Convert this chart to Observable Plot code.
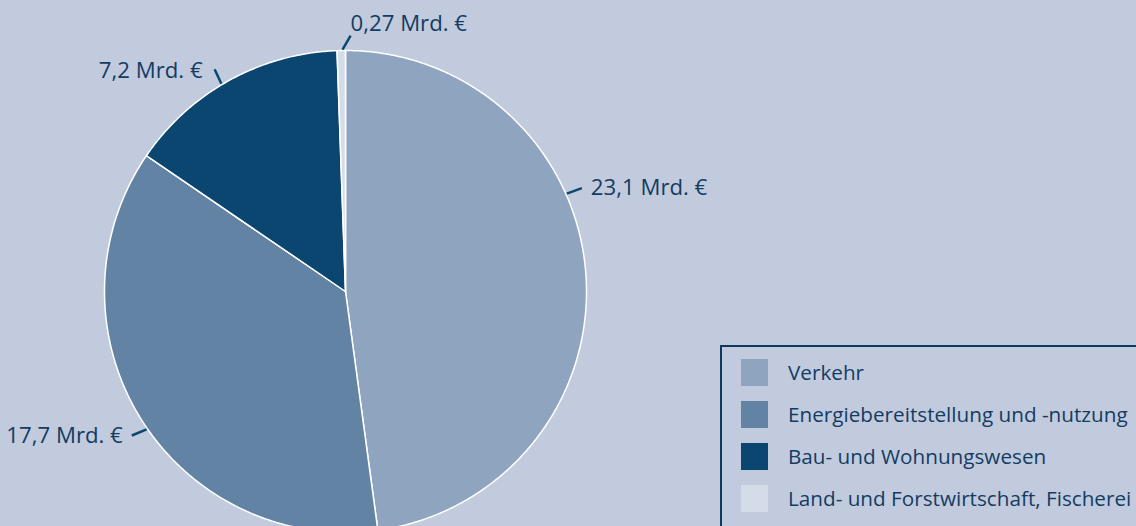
<!DOCTYPE html>
<html>
<head>
<meta charset="utf-8">
<script src="https://cdn.jsdelivr.net/npm/d3@7"></script>
<script src="https://cdn.jsdelivr.net/npm/@observablehq/plot@0.6"></script>
<style>
  html, body { margin: 0; padding: 0; background: #C1CBDD; overflow: hidden; }
  #wrap { position: relative; width: 1136px; height: 526px; overflow: hidden; font-family: "Open Sans", sans-serif; }
  #legend { position: absolute; left: 720px; top: 345px; width: 500px; height: 300px;
            border: 2px solid #0B3A60; box-sizing: border-box; }
  .row { position: absolute; left: 19px; height: 27px; display: flex; align-items: center; }
  .sw { width: 27px; height: 27px; margin-right: 20px; flex: none; }
  .lab { font-size: 20.7px; color: #143C63; white-space: nowrap; line-height: 27px; }
</style>
</head>
<body>
<div id="wrap"></div>
<script>
// ---- data ----
const categories = ["Verkehr", "Energiebereitstellung und -nutzung", "Bau- und Wohnungswesen", "Land- und Forstwirtschaft, Fischerei"];
const values = [23.1, 17.7, 7.2, 0.27];
const valueLabels = ["23,1 Mrd. €", "17,7 Mrd. €", "7,2 Mrd. €", "0,27 Mrd. €"];
const colors = ["#8FA5BF", "#6383A5", "#0A466F", "#D4DCE7"];

// ---- layout ----
const W = 1136, H = 526;
const R = 241;
const cx = 345, cy = 291;
const labelAngleShift = [-20, -3, -2, 0.3]; // degrees, leader start offset from slice mid-angle
const leaderTilt = [4, 12, 6, 31];          // degrees, leader direction relative to radial
const leaderLen = 16;
const labelStyle = [
  {textAnchor: "start", dx: 9, dy: 0},
  {textAnchor: "end", dx: -9, dy: 0},
  {textAnchor: "end", dx: -12, dy: 2},
  {textAnchor: "start", dx: 0, dy: -12}
];

const total = d3.sum(values);
let acc = 0;
const slices = categories.map((c, i) => {
  const a0 = acc / total * 360;
  acc += values[i];
  const a1 = acc / total * 360;
  return {name: c, i, a0, a1, mid: (a0 + a1) / 2};
});
const rad = a => a * Math.PI / 180;
const pt = (a, r) => [r * Math.sin(rad(a)), r * Math.cos(rad(a))];

const poly = [];
for (const s of slices) {
  poly.push({name: s.name, x: 0, y: 0});
  const n = Math.max(2, Math.ceil((s.a1 - s.a0) / 0.5));
  for (let k = 0; k <= n; k++) {
    const a = s.a0 + (s.a1 - s.a0) * k / n;
    const [x, y] = pt(a, R);
    poly.push({name: s.name, x, y});
  }
  poly.push({name: s.name, x: 0, y: 0});
}

const leaders = slices.map(s => {
  const a = s.mid + labelAngleShift[s.i];
  const [x1, y1] = pt(a, R + 1);
  const d = a + leaderTilt[s.i];
  const x2 = x1 + leaderLen * Math.sin(rad(d));
  const y2 = y1 + leaderLen * Math.cos(rad(d));
  return {x1, y1, x2, y2, label: valueLabels[s.i], i: s.i};
});

const chart = Plot.plot({
  width: W, height: H,
  margin: 0,
  x: {domain: [-cx, W - cx], axis: null},
  y: {domain: [cy - H, cy], axis: null},
  color: {domain: categories, range: colors},
  style: {background: "#C1CBDD", fontFamily: "Open Sans, sans-serif"},
  marks: [
    Plot.line(poly, {x: "x", y: "y", z: "name", fill: "name", stroke: "white", strokeWidth: 1.5, strokeLinejoin: "round", curve: "linear"}),
    Plot.link(leaders, {x1: "x1", y1: "y1", x2: "x2", y2: "y2", stroke: "#0B4870", strokeWidth: 2.5}),
    ...leaders.map(l => Plot.text([l], {x: "x2", y: "y2", text: "label", fill: "#143C63", fontSize: 22.2,
      textAnchor: labelStyle[l.i].textAnchor, dx: labelStyle[l.i].dx, dy: labelStyle[l.i].dy}))
  ]
});
const wrap = document.getElementById("wrap");
wrap.appendChild(chart);

// legend (overlaid, clipped by the frame like the reference)
const legend = document.createElement("div");
legend.id = "legend";
categories.forEach((c, i) => {
  const row = document.createElement("div");
  row.className = "row";
  row.style.top = (12 + i * 42) + "px";
  row.innerHTML = `<div class="sw" style="background:${colors[i]}"></div><div class="lab">${c}</div>`;
  legend.appendChild(row);
});
wrap.appendChild(legend);
</script>
</body>
</html>
